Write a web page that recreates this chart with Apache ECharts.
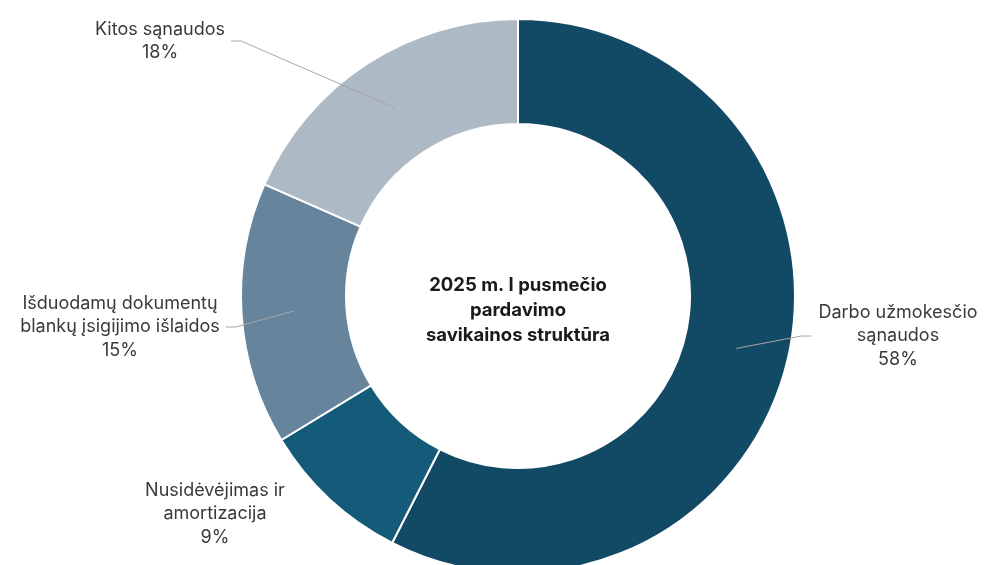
<!DOCTYPE html>
<html>
<head>
<meta charset="utf-8">
<script src="https://cdn.jsdelivr.net/npm/echarts@6/dist/echarts.min.js"></script>
<style>
html,body{margin:0;padding:0;background:#fff;}
#chart{width:986px;height:565px;}
</style>
</head>
<body>
<div id="chart"></div>
<script>
// Data
var categories = [
  'Darbo užmokesčio\nsąnaudos',
  'Nusidėvėjimas ir\namortizacija',
  'Išduodamų dokumentų\nblankų įsigijimo išlaidos',
  'Kitos sąnaudos'
];
var values = [57.5, 8.8, 15.3, 18.4];
var centerTitle = '2025 m. I pusmečio\npardavimo\nsavikainos struktūra';

// Styling / layout (not data)
var colors = ['#124a66', '#145a79', '#66849b', '#adb9c4'];
var CX = 518, CY = 296, R0 = 172, R1 = 277;
// label anchor (text block centre) and side the leader attaches to
var labelAnchors = [
  {x: 898, y: 336, side: 'left', line: true},
  {x: 215, y: 514, side: 'right', line: false},
  {x: 120, y: 327, side: 'right', line: true},
  {x: 160, y: 41, side: 'right', line: true}
];

var total = values.reduce(function (a, b) { return a + b; }, 0);
function midAngle(i) {
  var before = 0;
  for (var k = 0; k < i; k++) before += values[k];
  var mid = before + values[i] / 2;
  return (90 - mid / total * 360) * Math.PI / 180;
}

var pieData = categories.map(function (c, i) { return {name: c, value: values[i]}; });

var chart = echarts.init(document.getElementById('chart'), null, {renderer: 'canvas'});
var option = {
  animation: false,
  color: colors,
  graphic: [{
    type: 'text',
    x: CX, y: 310,
    z: 10,
    style: {
      text: centerTitle,
      fill: '#1a1a1a',
      font: 'bold 18.5px Inter',
      lineHeight: 25,
      align: 'center',
      verticalAlign: 'middle'
    }
  }],
  series: [{
    type: 'pie',
    z: 2,
    center: [CX, CY],
    radius: [R0, R1],
    startAngle: 90,
    clockwise: true,
    silent: true,
    itemStyle: {borderColor: '#ffffff', borderWidth: 2},
    label: {show: false},
    labelLine: {show: false},
    data: pieData
  }, {
    // overlay carrying labels and leader lines above the ring
    type: 'pie',
    z: 5,
    center: [CX, CY],
    radius: [R0, R1],
    startAngle: 90,
    clockwise: true,
    silent: true,
    avoidLabelOverlap: false,
    itemStyle: {color: 'rgba(0,0,0,0)', borderWidth: 0},
    label: {
      show: true,
      position: 'outside',
      fontFamily: 'Inter',
      fontSize: 18,
      lineHeight: 23.5,
      color: '#3a3a3a',
      align: 'center',
      formatter: function (p) { return p.name + '\n' + Math.round(p.percent) + '%'; }
    },
    labelLine: {show: true, lineStyle: {color: '#a6a6a6', width: 1}},
    labelLayout: function (params) {
      var i = params.dataIndex;
      var a = labelAnchors[i];
      var w = params.labelRect.width;
      var ang = midAngle(i);
      var rm = (R0 + R1) / 2;
      var sx = CX + rm * Math.cos(ang);
      var sy = CY - rm * Math.sin(ang);
      var res = {x: a.x, y: a.y, align: 'center', verticalAlign: 'middle'};
      if (a.line) {
        var ex, bx;
        if (a.side === 'right') { ex = a.x + w / 2 + 6; bx = ex + 10; }
        else { ex = a.x - w / 2 - 7; bx = ex - 10; }
        res.labelLinePoints = [[sx, sy], [bx, a.y], [ex, a.y]];
      } else {
        res.labelLinePoints = [[a.x, a.y], [a.x, a.y], [a.x, a.y]];
      }
      return res;
    },
    data: pieData.map(function (d, i) {
      var o = {name: d.name, value: d.value};
      if (!labelAnchors[i].line) o.labelLine = {show: false};
      return o;
    })
  }]
};
chart.setOption(option);
</script>
</body>
</html>
